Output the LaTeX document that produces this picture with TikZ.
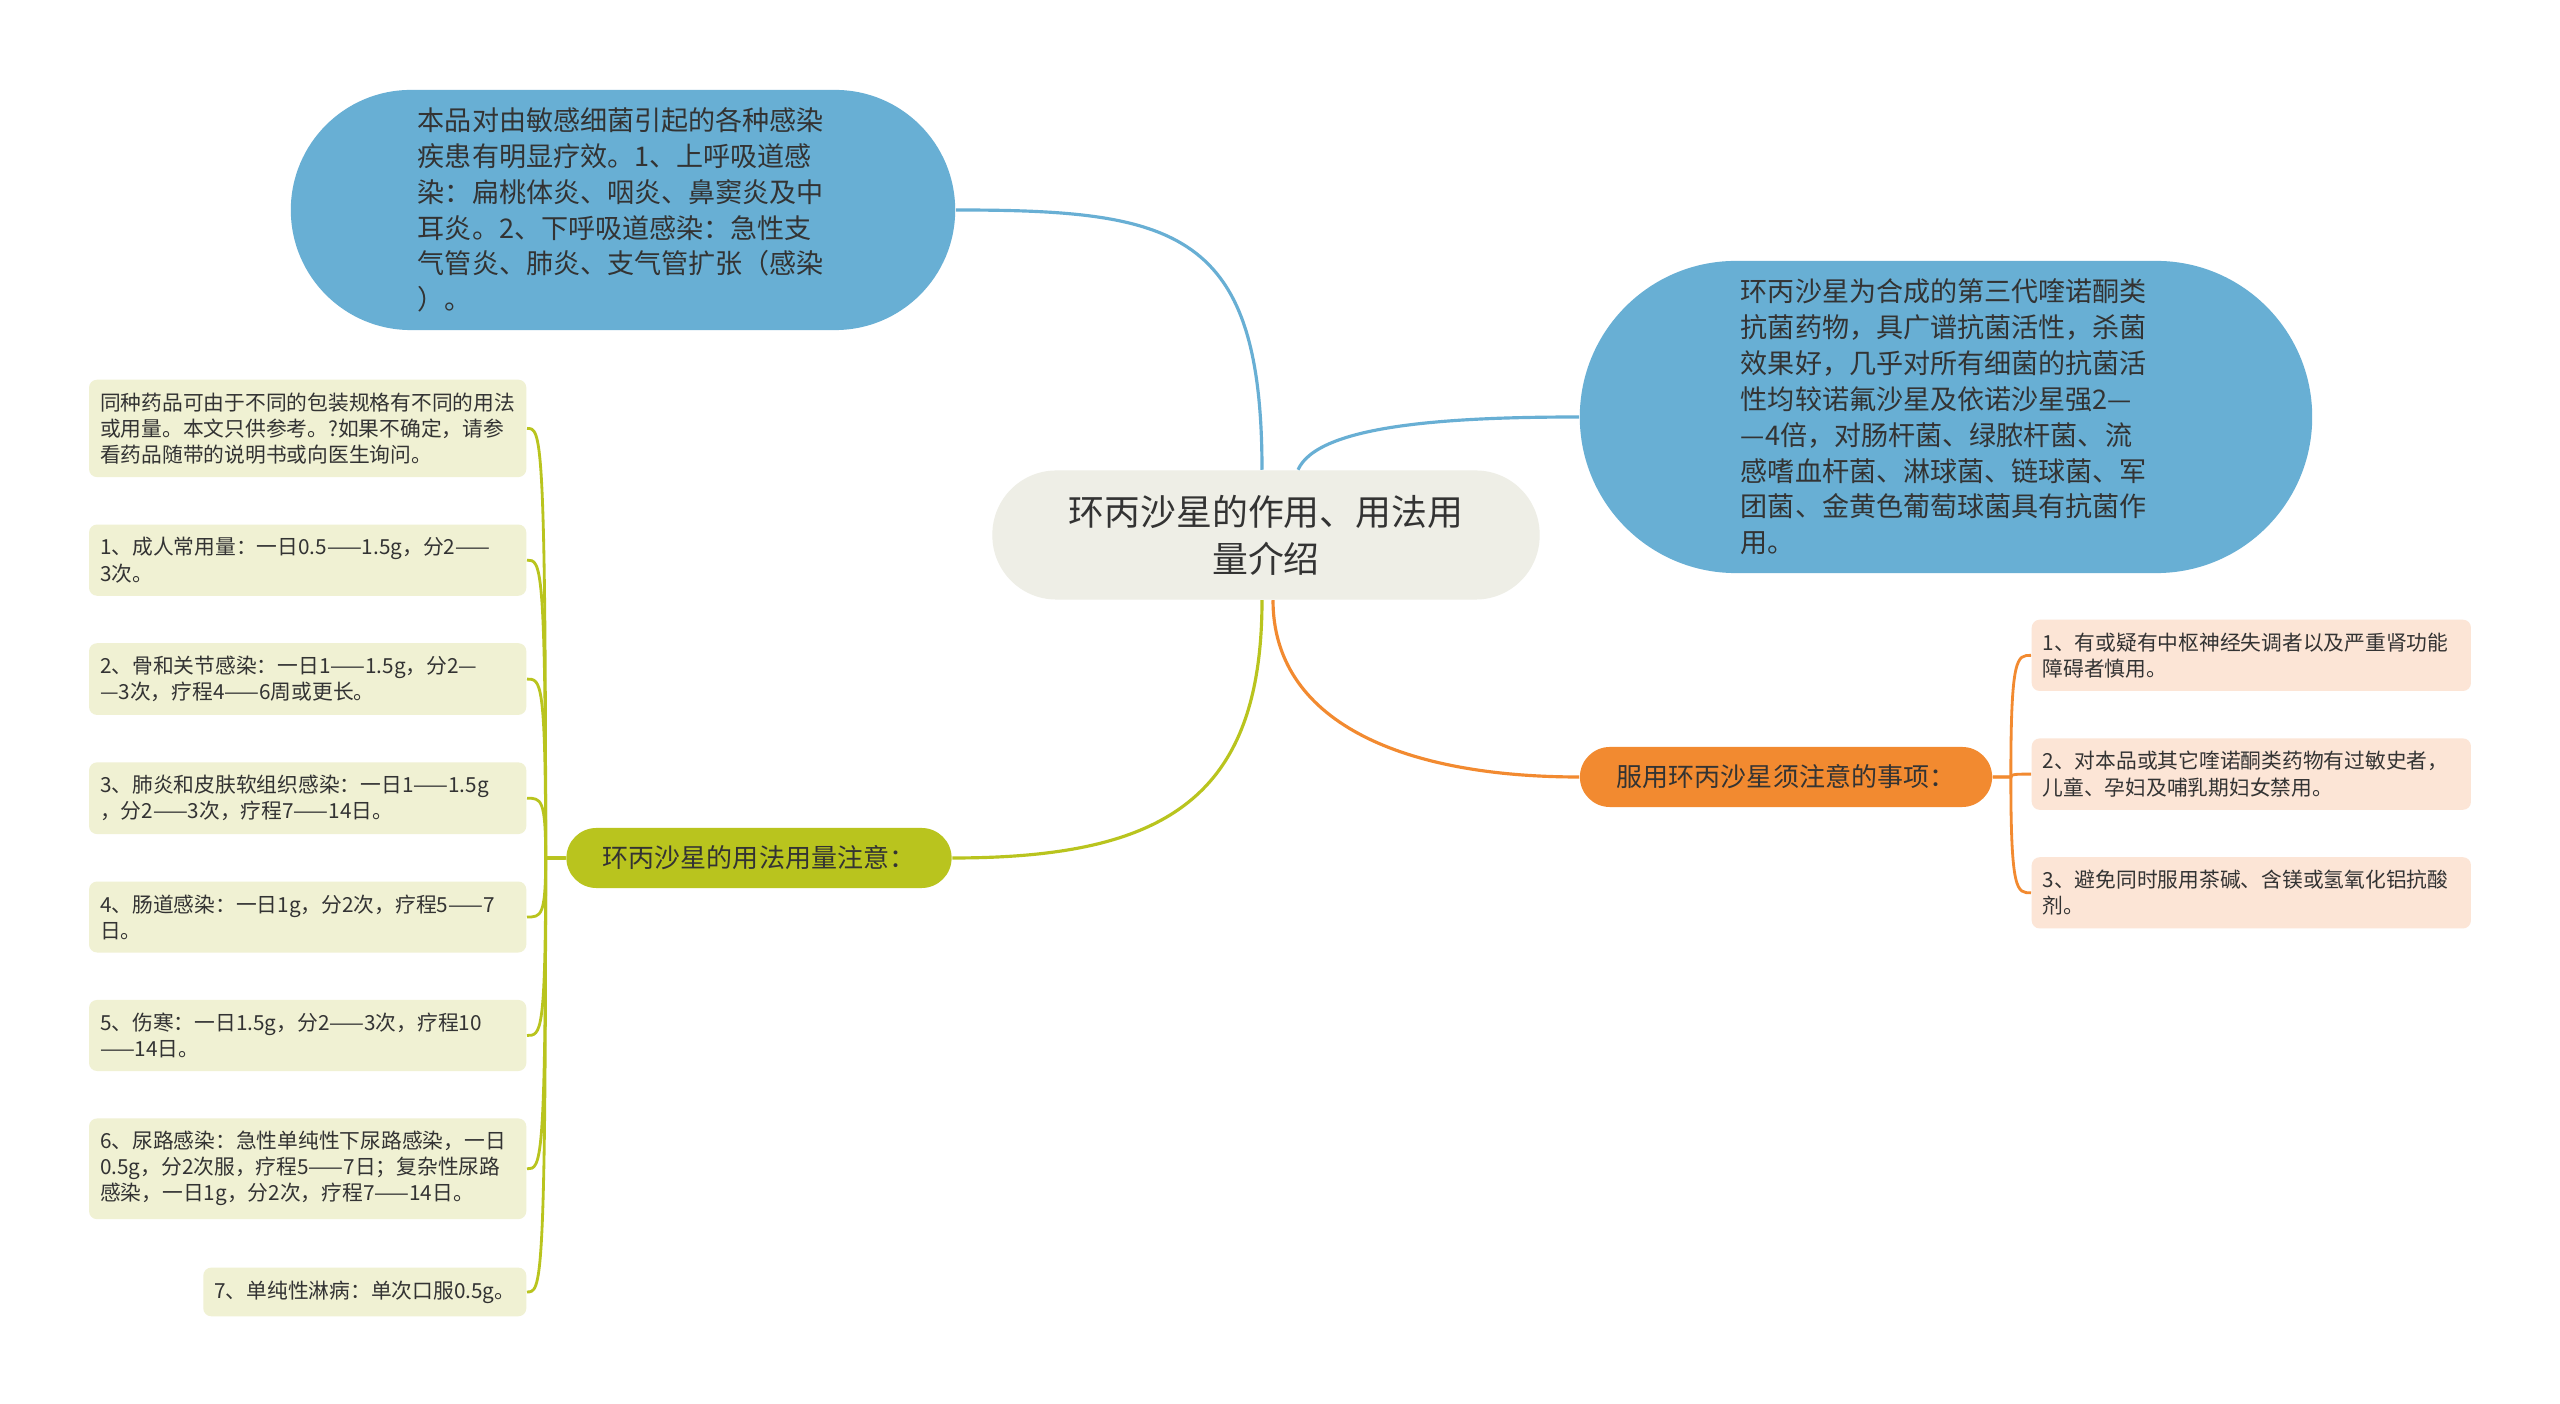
\documentclass[tikz,border=0pt]{standalone}
\usepackage{fontspec}
\setmainfont{Noto Sans CJK SC}
\usepackage{xcolor}
\usepackage{tikz}
\usetikzlibrary{positioning}

\definecolor{rootfill}{HTML}{EEEEE6}
\definecolor{bluefill}{HTML}{68AFD4}
\definecolor{greenfill}{HTML}{B9C41E}
\definecolor{greenleaf}{HTML}{F0F1D3}
\definecolor{orangefill}{HTML}{F28A30}
\definecolor{orangeleaf}{HTML}{FCE5D6}
\definecolor{txt}{HTML}{333333}

\tikzset{
  bubble/.style={fill=bluefill, text=txt, align=left, text width=4.1cm,
    font=\fontsize{7.7pt}{10.2pt}\selectfont},
  branch/.style={text=txt, minimum height=0.6cm, rounded corners=0.3cm,
    font=\fontsize{7.4pt}{9pt}\selectfont},
  gleaf/.style={fill=greenleaf, text=txt, align=left, text width=4.15cm,
    inner xsep=0.11cm, inner ysep=0.13cm, rounded corners=0.08cm,
    font=\fontsize{5.9pt}{7.4pt}\selectfont},
  oleaf/.style={gleaf, fill=orangeleaf, text width=4.17cm},
  link/.style={line width=0.9pt},
  twig/.style={line width=0.8pt}
}

\begin{document}
\begin{tikzpicture}[x=0.01cm, y=-0.01cm, node distance=0.46cm]
        \useasboundingbox[fill=white] (0,0) rectangle (2560,1404);
        % Root
        \node[fill=rootfill, text=txt, align=center, minimum width=5.47cm, minimum height=1.29cm,
          rounded corners=0.64cm, font=\fontsize{10.2pt}{13.4pt}\selectfont] (root) at (1266,535)
          {环丙沙星的作用、用法用\\量介绍};
        % Effect (top left)
        \node[bubble, minimum width=6.59cm, minimum height=2.4cm, rounded corners=1.2cm,
          inner xsep=1.27cm] (effect) at (623,210)
          {本品对由敏感细菌引起的各种感染\\疾患有明显疗效。1、上呼吸道感\\染：扁桃体炎、咽炎、鼻窦炎及中\\耳炎。2、下呼吸道感染：急性支\\气管炎、肺炎、支气管扩张（感染\\）。};
        % Intro (right)
        \node[bubble, minimum width=7.32cm, minimum height=3.12cm, rounded corners=1.56cm,
          inner xsep=1.6cm] (intro) at (1946,417)
          {环丙沙星为合成的第三代喹诺酮类\\抗菌药物，具广谱抗菌活性，杀菌\\效果好，几乎对所有细菌的抗菌活\\性均较诺氟沙星及依诺沙星强2—\\—4倍，对肠杆菌、绿脓杆菌、流\\感嗜血杆菌、淋球菌、链球菌、军\\团菌、金黄色葡萄球菌具有抗菌作\\用。};
        % Dosage branch
        \node[branch, fill=greenfill, minimum width=3.85cm] (dosage) at (759,858) {环丙沙星的用法用量注意：};
        % Caution branch
        \node[branch, fill=orangefill, minimum width=4.12cm] (caution) at (1786,777) {服用环丙沙星须注意的事项：};
        % Dosage leaves
        \node[gleaf, anchor=north east] (dose0) at (527,379)
          {同种药品可由于不同的包装规格有不同的用法\\或用量。本文只供参考。?如果不确定，请参\\看药品随带的说明书或向医生询问。};
        \node[gleaf, below=of dose0] (dose1) {1、成人常用量：一日0.5——1.5g，分2——\\3次。};
        \node[gleaf, below=of dose1] (dose2) {2、骨和关节感染：一日1——1.5g，分2—\\—3次，疗程4——6周或更长。};
        \node[gleaf, below=of dose2] (dose3) {3、肺炎和皮肤软组织感染：一日1——1.5g\\，分2——3次，疗程7——14日。};
        \node[gleaf, below=of dose3] (dose4) {4、肠道感染：一日1g，分2次，疗程5——7\\日。};
        \node[gleaf, below=of dose4] (dose5) {5、伤寒：一日1.5g，分2——3次，疗程10\\——14日。};
        \node[gleaf, below=of dose5] (dose6)
          {6、尿路感染：急性单纯性下尿路感染，一日\\0.5g，分2次服，疗程5——7日；复杂性尿路\\感染，一日1g，分2次，疗程7——14日。};
        \node[gleaf, text width=, below=0.47cm of dose6.south east, anchor=north east] (dose7)
          {7、单纯性淋病：单次口服0.5g。};
        % Caution leaves
        \node[oleaf, anchor=north west] (care1) at (2031,619) {1、有或疑有中枢神经失调者以及严重肾功能\\障碍者慎用。};
        \node[oleaf, below=of care1] (care2) {2、对本品或其它喹诺酮类药物有过敏史者，\\儿童、孕妇及哺乳期妇女禁用。};
        \node[oleaf, below=of care2] (care3) {3、避免同时服用茶碱、含镁或氢氧化铝抗酸\\剂。};
        % Links
        \draw[link, bluefill] ([xshift=-0.04cm]root.north) .. controls +(0,-240) and +(220,0) .. (effect.east);
        \draw[link, bluefill] ([xshift=0.32cm]root.north) .. controls +(20,-45) and +(-130,0) .. (intro.west);
        \draw[link, greenfill] ([xshift=-0.04cm]root.south) .. controls +(0,200) and +(210,0) .. (dosage.east);
        \draw[link, orangefill] ([xshift=0.07cm]root.south) .. controls +(0,120) and +(-180,0) .. (caution.west);
        \coordinate (gtrunk) at ([xshift=-0.2cm]dosage.west);
        \coordinate (otrunk) at ([xshift=0.18cm]caution.east);
        \foreach \leaf in {dose0,dose1,dose2,dose3,dose4,dose5,dose6,dose7}
          \draw[twig, greenfill] (dosage.west) -- (gtrunk) .. controls (gtrunk |- \leaf.east) and +(14,0) .. (\leaf.east);
        \foreach \leaf in {care1,care2,care3}
          \draw[twig, orangefill] (caution.east) -- (otrunk) .. controls (otrunk |- \leaf.west) and +(-14,0) .. (\leaf.west);
    \end{tikzpicture}
\end{document}
